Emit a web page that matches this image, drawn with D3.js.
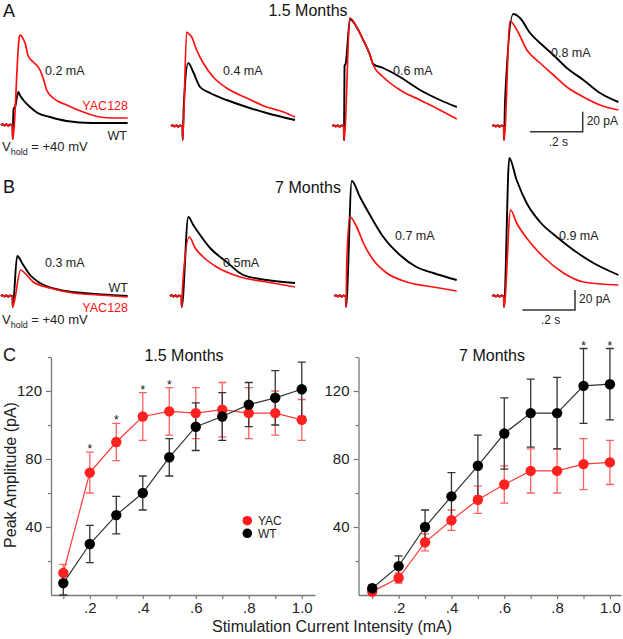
<!DOCTYPE html>
<html><head><meta charset="utf-8">
<script src="https://cdn.jsdelivr.net/npm/d3@7"></script>
<style>
html,body{margin:0;padding:0;background:#fff;}
svg{display:block;font-family:"Liberation Sans",Arial,sans-serif;}
</style></head>
<body>
<svg id="fig" width="623" height="639"></svg>
<script>
// ---------- Panel C data ----------
const intensities = [0.1,0.2,0.3,0.4,0.5,0.6,0.7,0.8,0.9,1.0];
const xTickLabels = ["",".2","",".4","",".6","",".8","","1.0"];
const yTickValues = [20,40,60,80,100,120,140];
const yTickLabels = ["","40","","80","","120",""];
const yac15 = [13,72,90,105,108,107,109,107,107,103];
const yac15Err = [5,12,11,14,14,15,16,15,13,12];
const wt15 = [7,30,47,60,81,99,105,112,116,121];
const wt15Err = [7,11,11,10,11,14,14,13,16,16];
const sig15 = [0.2,0.3,0.4,0.5];
const yac7 = [2,10,31,44,56,65,73,73,77,78];
const yac7Err = [2,3,5,6,8,11,13,13,15,13];
const wt7 = [4,17,40,58,76,95,107,107,123,124];
const wt7Err = [2,6,10,14,18,21,20,21,22,21];
const sig7 = [0.9,1.0];

// ---------- Panel A/B trace data: [time (s) after stimulus, current (pA)] ----------
const pre = [[-0.045,0],[-0.038,0.8],[-0.031,-0.6],[-0.024,0.7],[-0.017,-0.8],[-0.010,0.6],[-0.004,0],[-0.001,0]];
const a1Red = [[0,-14],[0.026,89],[0.030,90],[0.038,87],[0.047,82],[0.059,69],[0.078,63],[0.104,55],[0.118,45],[0.129,35],[0.154,27],[0.205,20],[0.268,13],[0.332,8],[0.383,7],[0.437,7]];
const a1Wt  = [[0,-14],[0.003,16],[0.010,19],[0.021,33],[0.027,30],[0.040,25],[0.066,18],[0.095,12],[0.142,8],[0.205,4],[0.300,2],[0.437,2]];
const a2Red = [[0,-14],[0.015,94],[0.024,92],[0.034,89],[0.053,76],[0.078,63],[0.116,49],[0.167,38],[0.243,28],[0.319,19],[0.383,14],[0.427,9]];
const a2Wt  = [[0,-14],[0.004,20],[0.021,63],[0.040,54],[0.066,39],[0.104,33],[0.167,26],[0.243,19],[0.319,13],[0.427,6]];
const a3Red = [[0,-14],[0.023,108],[0.048,99],[0.073,86],[0.099,71],[0.111,61],[0.149,49],[0.213,36],[0.289,26],[0.365,16],[0.429,7]];
const a3Wt  = [[0,-14],[0.002,60],[0.006,62],[0.023,107],[0.048,99],[0.073,86],[0.099,71],[0.111,62],[0.149,58],[0.213,49],[0.289,36],[0.365,26],[0.429,19]];
const a4Red = [[0,-14],[0.023,105],[0.049,96],[0.087,76],[0.137,63],[0.188,51],[0.239,39],[0.302,29],[0.365,21],[0.435,16]];
const a4Wt  = [[0,-14],[0.004,25],[0.035,112],[0.061,108],[0.099,93],[0.137,83],[0.188,71],[0.239,58],[0.302,46],[0.365,33],[0.435,24]];
const b1Red = [[0,-11],[0.030,26],[0.053,21],[0.078,14],[0.142,8],[0.230,3],[0.330,1],[0.437,-1]];
const b1Wt  = [[0,-11],[0.017,40],[0.040,31],[0.066,21],[0.104,13],[0.180,6],[0.268,3],[0.437,0]];
const b2Red = [[0,-11],[0.003,8],[0.029,59],[0.051,48],[0.082,39],[0.133,29],[0.222,19],[0.323,14],[0.431,9]];
const b2Wt  = [[0,-11],[0.025,79],[0.044,71],[0.070,61],[0.108,48],[0.171,34],[0.234,21],[0.323,16],[0.431,13]];
const b3Red = [[0,-11],[0.003,35],[0.015,79],[0.041,69],[0.066,53],[0.104,36],[0.155,23],[0.231,14],[0.332,9],[0.421,5]];
const b3Wt  = [[0,-11],[0.022,115],[0.053,99],[0.091,81],[0.142,59],[0.205,41],[0.268,29],[0.332,23],[0.421,16]];
const b4Red = [[0,-11],[0.025,86],[0.048,73],[0.086,58],[0.150,39],[0.226,23],[0.302,14],[0.435,11]];
const b4Wt  = [[0,-11],[0.020,138],[0.048,116],[0.086,93],[0.137,74],[0.201,59],[0.264,46],[0.340,33],[0.435,21]];
const traceLabels = ["0.2 mA","0.4 mA","0.6 mA","0.8 mA","0.3 mA","0.5mA","0.7 mA","0.9 mA"];

// ---------- layout ----------
const svg = d3.select("#fig");
const RED = "#ff1010", BLACK = "#000";
const tx = d3.scaleLinear().domain([0,1]).range([0,263]);   // seconds -> px
const ty = d3.scaleLinear().domain([0,1]).range([0,-1]);    // pA -> px
const line = d3.line().x(d=>tx(d[0])).y(d=>ty(d[1])).curve(d3.curveMonotoneX);

const panels = [
  {x:12.7, y:125, red:a1Red, wt:a1Wt, lab:traceLabels[0], lx:45, ly:75},
  {x:182.7,y:126, red:a2Red, wt:a2Wt, lab:traceLabels[1], lx:223, ly:75},
  {x:344,  y:126, red:a3Red, wt:a3Wt, lab:traceLabels[2], lx:393, ly:75},
  {x:504,  y:126, red:a4Red, wt:a4Wt, lab:traceLabels[3], lx:551, ly:57},
  {x:12.7, y:296, red:b1Red, wt:b1Wt, lab:traceLabels[4], lx:45, ly:267},
  {x:181.7,y:296, red:b2Red, wt:b2Wt, lab:traceLabels[5], lx:223, ly:267},
  {x:346,  y:296, red:b3Red, wt:b3Wt, lab:traceLabels[6], lx:395, ly:240},
  {x:504,  y:296, red:b4Red, wt:b4Wt, lab:traceLabels[7], lx:559, ly:240}
];
panels.forEach(p=>{
  const g = svg.append("g").attr("transform",`translate(${p.x},${p.y})`);
  g.append("path").datum(pre.concat(p.wt)).attr("d",line).attr("fill","none")
    .attr("stroke",BLACK).attr("stroke-width",1.9).attr("stroke-linejoin","round");
  g.append("path").datum(pre.concat(p.red)).attr("d",line).attr("fill","none")
    .attr("stroke",RED).attr("stroke-width",1.7).attr("stroke-linejoin","round");
  svg.append("text").attr("x",p.lx).attr("y",p.ly).attr("font-size",12.5).attr("fill","#222").text(p.lab);
});

function txt(x,y,s,opt={}){
  const t = svg.append("text").attr("x",x).attr("y",y).attr("font-size",opt.size||13)
    .attr("fill",opt.fill||"#222").attr("text-anchor",opt.anchor||"start").text(s);
  return t;
}
// panel letters and titles
txt(3,17,"A",{size:18,fill:"#111"});
txt(308,16,"1.5 Months",{size:16,anchor:"middle",fill:"#111"});
txt(3,193,"B",{size:18,fill:"#111"});
txt(308,193,"7 Months",{size:16,anchor:"middle",fill:"#111"});
txt(3,361,"C",{size:18,fill:"#111"});

// legends in A/B
txt(128,110,"YAC128",{size:12.5,anchor:"end",fill:RED});
txt(127,140,"WT",{size:12.5,anchor:"end"});
txt(128,292,"WT",{size:12.5,anchor:"end"});
txt(128,312,"YAC128",{size:12.5,anchor:"end",fill:RED});
function vhold(y){
  const t = svg.append("text").attr("x",2).attr("y",y).attr("font-size",13).attr("fill","#222");
  t.append("tspan").text("V");
  t.append("tspan").attr("font-size",9).attr("dy",4).text("hold");
  t.append("tspan").attr("dy",-4).text(" = +40 mV");
}
vhold(151); vhold(324);

// scale bars
function scaleBar(cx,cy){
  const g = svg.append("g");
  g.append("path").attr("d",`M${cx-tx(0.2)},${cy}H${cx}V${cy+ty(20)}`)
    .attr("fill","none").attr("stroke","#333").attr("stroke-width",1.5);
  txt(cx+4,cy-7,"20 pA",{size:12});
  txt(cx-tx(0.2)/2+2,cy+14,".2 s",{size:12,anchor:"middle"});
}
scaleBar(582.7,131.7); scaleBar(575,310);

// ---------- Panel C ----------
const y = d3.scaleLinear().domain([0,140]).range([595,357]);
const plots = [
  {x: d3.scaleLinear().domain([0.0536,1.050]).range([51,315]), yac:yac15, yacE:yac15Err, wt:wt15, wtE:wt15Err, sig:sig15, sigSrc:"yac", title:"1.5 Months", tx:184},
  {x: d3.scaleLinear().domain([0.048,1.042]).range([358.5,621]), yac:yac7, yacE:yac7Err, wt:wt7, wtE:wt7Err, sig:sig7, sigSrc:"wt", title:"7 Months", tx:492}
];
const GRAY = "#777";
plots.forEach(P=>{
  const g = svg.append("g");
  const ax = g.append("g").attr("transform","translate(0,595)")
    .call(d3.axisBottom(P.x).tickValues(intensities).tickSize(4).tickSizeOuter(0)
      .tickFormat((d,i)=>xTickLabels[i]));
  const ay = g.append("g").attr("transform",`translate(${P.x.range()[0]},0)`)
    .call(d3.axisLeft(y).tickValues(yTickValues).tickSizeOuter(0)
      .tickFormat((d,i)=>yTickLabels[i]));
  ay.selectAll(".tick line").attr("x2",(d,i)=>yTickLabels[i]?-5:-3);
  [ax,ay].forEach(a=>{
    a.select(".domain").attr("stroke",GRAY).attr("stroke-width",1.3);
    a.selectAll(".tick line").attr("stroke",GRAY).attr("stroke-width",1.2);
    a.selectAll("text").attr("font-size",15).attr("fill","#222")
      .attr("font-family","Liberation Sans, Arial, sans-serif");
  });
  ax.selectAll("text").attr("y",7.5);
  txt(P.tx,361,P.title,{size:16,anchor:"middle",fill:"#111"});

  const series = [
    {v:P.yac, e:P.yacE, col:"#ff2020", ecol:"#ff6060", lcol:"#ff3a3a"},
    {v:P.wt, e:P.wtE, col:"#000", ecol:"#333", lcol:"#333"}
  ];
  series.forEach(s=>{
    const ln = d3.line().x((d,i)=>P.x(intensities[i])).y(d=>y(d));
    g.append("path").datum(s.v).attr("d",ln).attr("fill","none").attr("stroke",s.lcol).attr("stroke-width",1.2);
    const eg = g.append("g").attr("stroke",s.ecol).attr("stroke-width",1.3).attr("fill","none");
    s.v.forEach((v,i)=>{
      const cx = P.x(intensities[i]);
      eg.append("path").attr("d",
        `M${cx},${y(v-s.e[i])}V${y(v+s.e[i])}M${cx-4},${y(v+s.e[i])}H${cx+4}M${cx-4},${y(v-s.e[i])}H${cx+4}`);
    });
  });
  series.forEach(s=>{
    g.selectAll(null).data(s.v).enter().append("circle")
      .attr("cx",(d,i)=>P.x(intensities[i])).attr("cy",d=>y(d)).attr("r",5.2).attr("fill",s.col);
  });
  // significance asterisks
  P.sig.forEach(sx=>{
    const i = intensities.indexOf(sx);
    const top = P.sigSrc==="yac" ? P.yac[i]+P.yacE[i] : P.wt[i]+P.wtE[i];
    txt(P.x(sx),y(top)+1,"*",{size:12,anchor:"middle",fill:"#111"});
  });
});

// legend C
const legend = [{name:"YAC",col:"#ff1a1a",cy:520.7},{name:"WT",col:"#000",cy:533.3}];
legend.forEach(l=>{
  svg.append("circle").attr("cx",247.3).attr("cy",l.cy).attr("r",4.8).attr("fill",l.col);
  txt(258,l.cy+4.5,l.name,{size:12});
});

// axis titles
svg.append("text").attr("transform","translate(16,475) rotate(-90)").attr("text-anchor","middle")
  .attr("font-size",16).attr("fill","#222").text("Peak Amplitude (pA)");
txt(332,632,"Stimulation Current Intensity (mA)",{size:16,anchor:"middle"});
</script>
</body></html>
